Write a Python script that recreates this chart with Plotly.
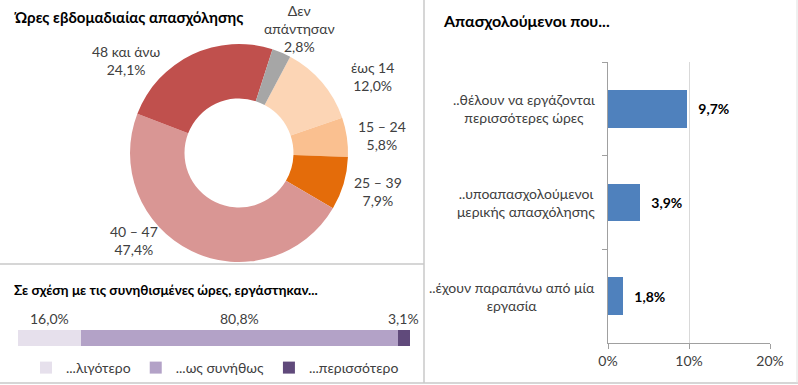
import plotly.graph_objects as go

# ---------------- data ----------------
hours_labels = ["έως 14", "15 – 24", "25 – 39", "40 – 47", "48 και άνω", "Δεν<br>απάντησαν"]
hours_values = [12.0, 5.8, 7.9, 47.4, 24.1, 2.8]

usual_labels = ["...λιγότερο", "...ως συνήθως", "...περισσότερο"]
usual_values = [16.0, 80.8, 3.1]

emp_labels = [
    "..θέλουν να εργάζονται<br>περισσότερες ώρες",
    "..υποαπασχολούμενοι<br>μερικής απασχόλησης",
    "..έχουν παραπάνω από μία<br>εργασία",
]
emp_values = [9.7, 3.9, 1.8]
emp_ticks = [0, 10, 20]

titles = ["Ώρες εβδομαδιαίας απασχόλησης",
          "Σε σχέση με τις συνηθισμένες ώρες, εργάστηκαν...",
          "Απασχολούμενοι που..."]

# ---------------- style ----------------
W, H = 798, 385
FONT = "Lato, Roboto, sans-serif"
TXT = "#404040"
hours_colors = ["#FCD5B5", "#FAC090", "#E46C0A", "#D99694", "#C0504D", "#A6A6A6"]
usual_colors = ["#E6E0EC", "#B3A2C7", "#604A7B"]
bar_color = "#4F81BD"

def px(x):
    return x / W

def py(y):
    return 1 - y / H

def fmt(v):
    return f"{v:.1f}".replace(".", ",") + "%"

fig = go.Figure()

# Donut
fig.add_trace(go.Pie(
    labels=hours_labels, values=hours_values, hole=0.5, sort=False,
    direction="clockwise", rotation=28, textinfo="none",
    marker=dict(colors=hours_colors, line=dict(width=0)),
    domain=dict(x=[px(130), px(348)], y=[py(262), py(44)]),
    showlegend=False, hoverinfo="label+percent",
))

# Stacked bar (bottom left)
for lab, val, col in zip(usual_labels, usual_values, usual_colors):
    fig.add_trace(go.Bar(
        x=[val], y=["a"], orientation="h", name=lab, width=1,
        marker=dict(color=col, line=dict(width=0)),
        xaxis="x2", yaxis="y2", showlegend=True,
    ))

# Horizontal bar (right)
fig.add_trace(go.Bar(
    x=emp_values, y=emp_labels, orientation="h", width=0.4,
    marker=dict(color=bar_color, line=dict(width=0)),
    texttemplate="\u2002\u2009%{x:.1f}%", textposition="outside",
    textfont=dict(family=FONT, size=14, color="#000000", weight="bold"),
    cliponaxis=False, showlegend=False, xaxis="x", yaxis="y",
))

annotations = []

# Donut labels
pie_label_pos = [(372, 77), (382, 135), (378, 192), (134, 240), (126, 61), (299, 28)]
for lab, val, (ax, ay) in zip(hours_labels, hours_values, pie_label_pos):
    annotations.append(dict(
        x=px(ax), y=py(ay), xref="paper", yref="paper",
        text=f"{lab}<br>{fmt(val)}", showarrow=False, align="center",
        xanchor="center", yanchor="middle",
        font=dict(family=FONT, size=14, color=TXT),
    ))

# Stacked bar labels
cum = 0
for val in usual_values:
    annotations.append(dict(
        x=cum + val / 2, y=py(318), xref="x2", yref="paper",
        text=fmt(val), showarrow=False, xanchor="center", yanchor="middle",
        font=dict(family=FONT, size=14, color=TXT),
    ))
    cum += val

# Right bar category labels (centered lines)
for lab in emp_labels:
    annotations.append(dict(
        x=px(597), y=lab, xref="paper", yref="y",
        text=lab, showarrow=False, align="center",
        xanchor="right", yanchor="middle",
        font=dict(family=FONT, size=14, color=TXT),
    ))

# Titles
annotations.append(dict(x=px(12), y=py(17), xref="paper", yref="paper", text=titles[0],
                        showarrow=False, xanchor="left", yanchor="middle",
                        font=dict(family=FONT, size=15, color="#000000", weight="bold")))
annotations.append(dict(x=px(12), y=py(290), xref="paper", yref="paper", text=titles[1],
                        showarrow=False, xanchor="left", yanchor="middle",
                        font=dict(family=FONT, size=13.5, color="#000000", weight="bold")))
annotations.append(dict(x=px(441), y=py(20), xref="paper", yref="paper", text=titles[2],
                        showarrow=False, xanchor="left", yanchor="middle",
                        font=dict(family=FONT, size=16, color="#000000", weight="bold")))

line_col = "#C8C8C8"
shapes = [
    dict(type="line", xref="paper", yref="paper", x0=px(424), x1=px(424), y0=py(0), y1=py(383),
         line=dict(color=line_col, width=1.5)),
    dict(type="line", xref="paper", yref="paper", x0=0, x1=px(424), y0=py(264), y1=py(264),
         line=dict(color=line_col, width=1.5)),
    dict(type="line", xref="paper", yref="paper", x0=0, x1=1, y0=py(383), y1=py(383),
         line=dict(color=line_col, width=1.5)),
    dict(type="line", xref="paper", yref="paper", x0=px(797), x1=px(797), y0=py(0), y1=py(383),
         line=dict(color="#E0E0E0", width=1)),
]

fig.update_layout(
    width=W, height=H, margin=dict(l=0, r=0, t=0, b=0, autoexpand=False),
    paper_bgcolor="white", plot_bgcolor="white",
    separators=",.", barmode="stack",
    font=dict(family=FONT, size=13, color=TXT),
    xaxis=dict(domain=[px(608), px(770)], range=[0, 20], tickvals=emp_ticks,
               ticktext=[f"{t}%" for t in emp_ticks],
               showgrid=True, gridcolor="#D9D9D9", gridwidth=1,
               zeroline=False, showline=True, linecolor="#A0A0A0", linewidth=1,
               ticks="outside", ticklen=5, tickcolor="#A0A0A0",
               tickfont=dict(family=FONT, size=14, color=TXT), anchor="y", fixedrange=True),
    yaxis=dict(domain=[py(343), py(62)], autorange="reversed", showticklabels=False,
               showgrid=False, zeroline=False, showline=True, linecolor="#A0A0A0",
               linewidth=1, ticks="outside", tickson="boundaries", ticklen=5,
               tickcolor="#A0A0A0", anchor="x"),
    xaxis2=dict(domain=[px(18), px(410)], range=[0, sum(usual_values)], visible=False,
                anchor="y2"),
    yaxis2=dict(domain=[py(346), py(330)], range=[-0.5, 0.5], visible=False, anchor="x2"),
    legend=dict(orientation="h", x=px(26), y=py(368), xanchor="left", yanchor="middle",
                font=dict(family=FONT, size=14, color=TXT), bgcolor="rgba(0,0,0,0)",
                itemwidth=30, tracegroupgap=0, traceorder="normal"),
    annotations=annotations, shapes=shapes,
)

fig.write_html("out.html", config={"displayModeBar": False},
               post_script="document.body.style.margin='0';document.body.style.overflow='hidden';")
